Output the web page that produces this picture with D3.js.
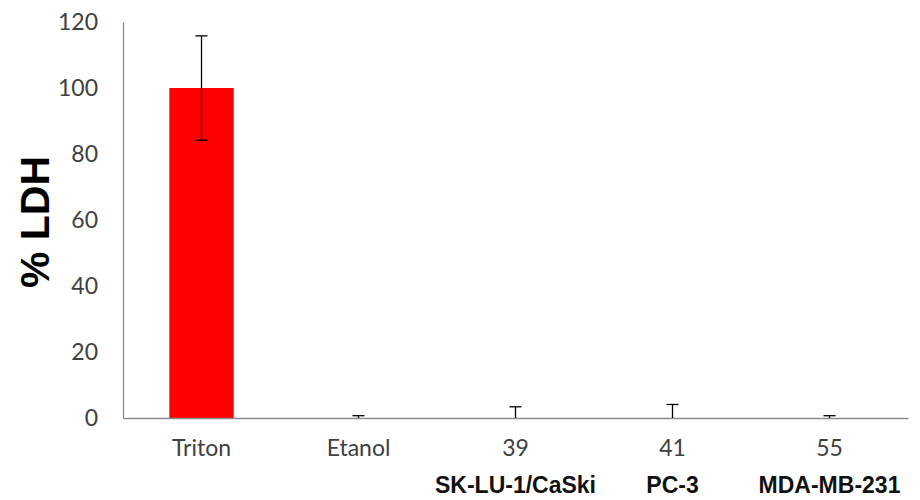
<!DOCTYPE html>
<html>
<head>
<meta charset="utf-8">
<script src="https://cdn.jsdelivr.net/npm/d3@7"></script>
<style>
  html, body { margin: 0; padding: 0; background: #fff; }
  svg { display: block; }
</style>
</head>
<body>
<svg id="chart" width="920" height="500"></svg>
<script>
// Treatment groups and their LDH release (% of Triton control)
const categories = ["Triton", "Etanol", "39", "41", "55"];
const cellLines = ["", "", "SK-LU-1/CaSki", "PC-3", "MDA-MB-231"];
const ldhValues = [100, 0, 0, 0, 0];
const ldhErrors = [15.8, 0.7, 3.4, 4.1, 0.7];
const yTicks = [0, 20, 40, 60, 80, 100, 120];

const svg = d3.select("#chart");
const margin = { left: 123, right: 12, top: 22, bottom: 82 };
const width = 920, height = 500;

const x = d3.scaleBand()
  .domain(categories)
  .range([margin.left, width - margin.right])
  .paddingInner(0.59)
  .paddingOuter(0.295);

const y = d3.scaleLinear()
  .domain([0, 120])
  .range([height - margin.bottom, margin.top]);

const tickFont = "Lato, 'Open Sans', sans-serif";
const tickColor = "#404040";
const axisColor = "#8c8c8c";

// Y axis
const yAxis = svg.append("g")
  .attr("transform", `translate(${margin.left},0)`)
  .call(d3.axisLeft(y).tickValues(yTicks).tickSize(0).tickPadding(25));
yAxis.select(".domain").attr("stroke", axisColor).attr("stroke-width", 1.3);
yAxis.selectAll("text")
  .attr("fill", tickColor)
  .style("font-family", tickFont)
  .style("font-size", "23px");

// Bars
svg.append("g").selectAll("rect")
  .data(categories)
  .join("rect")
  .attr("x", d => x(d))
  .attr("width", x.bandwidth())
  .attr("y", (d, i) => y(ldhValues[i]))
  .attr("height", (d, i) => y(0) - y(ldhValues[i]))
  .attr("fill", "#ff0000");

// X axis
const xAxis = svg.append("g")
  .attr("transform", `translate(0,${y(0)})`)
  .call(d3.axisBottom(x).tickSize(0).tickSizeOuter(0).tickPadding(22));
xAxis.select(".domain").attr("stroke", axisColor).attr("stroke-width", 1.3);
xAxis.selectAll("text")
  .attr("fill", tickColor)
  .style("font-family", tickFont)
  .style("font-size", "23px");

// Error bars (drawn above the axis only)
const capW = 6;
const err = svg.append("g").attr("stroke", "#000").attr("stroke-width", 1.3);
categories.forEach((c, i) => {
  const cx = x(c) + x.bandwidth() / 2;
  const hi = ldhValues[i] + ldhErrors[i];
  const lo = ldhValues[i] - ldhErrors[i];
  const loY = y(Math.max(0, lo));
  err.append("line").attr("x1", cx).attr("x2", cx).attr("y1", y(hi)).attr("y2", loY);
  err.append("line").attr("x1", cx - capW).attr("x2", cx + capW).attr("y1", y(hi)).attr("y2", y(hi));
  if (lo >= 0) {
    err.append("line").attr("x1", cx - capW).attr("x2", cx + capW).attr("y1", y(lo)).attr("y2", y(lo));
  }
});

// Cell line names under the compound numbers
svg.append("g").selectAll("text")
  .data(categories)
  .join("text")
  .attr("x", d => x(d) + x.bandwidth() / 2)
  .attr("y", 493)
  .attr("text-anchor", "middle")
  .style("font-family", "'Liberation Sans', Arial, sans-serif")
  .style("font-weight", "bold")
  .style("font-size", "23px")
  .attr("fill", "#111")
  .text((d, i) => cellLines[i]);

// Y axis title
svg.append("text")
  .attr("transform", `translate(49,222) rotate(-90)`)
  .attr("text-anchor", "middle")
  .style("font-family", "'Liberation Sans', Arial, sans-serif")
  .style("font-weight", "bold")
  .style("font-size", "41px")
  .attr("fill", "#000")
  .text("% LDH");
</script>
</body>
</html>
